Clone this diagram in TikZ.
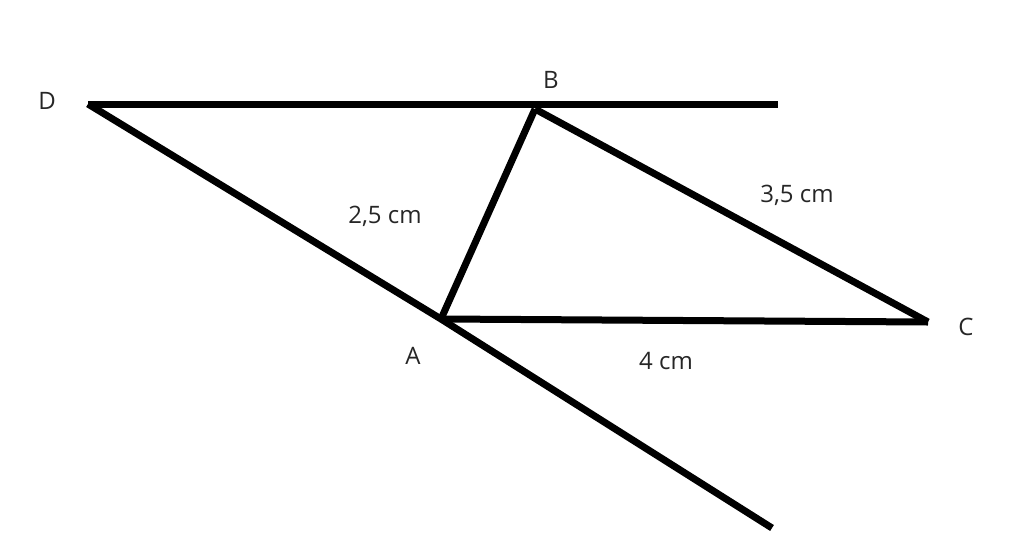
\documentclass[tikz,border=0pt]{standalone}
\usepackage{fontspec}
\setmainfont{Open Sans}

\begin{document}
\begin{tikzpicture}[x=1pt,y=-1pt]
				\tikzset{seg/.style={line width=7pt, draw=black},
				lbl/.style={text=black!85, font=\fontsize{24}{28}\selectfont, inner sep=0pt}}
				\useasboundingbox (0,0) rectangle (1024,555);
				\coordinate (D) at (88,104);
				\coordinate (E) at (778,104);
				\coordinate (B) at (535,109);
				\coordinate (C) at (928,322);
				\coordinate (A) at (441,319);
				\coordinate (F) at (772,528);
				\draw[seg] (D) -- (E);
				\draw[seg] (D) -- (A) -- (F);
				\draw[seg] (A) -- (B);
				\draw[seg] (B) -- (C);
				\draw[seg] (A) -- (C);
				\node[lbl] (lD) at (47,101) {D};
				\node[lbl] (lB) at (551,80) {B};
				\node[lbl] (lC) at (966,327) {C};
				\node[lbl] (lA) at (413,356) {A};
				\node[lbl] (lAB) at (385,216) {2,5 cm};
				\node[lbl] (lBC) at (797,195) {3,5 cm};
				\node[lbl] (lAC) at (666,361) {4 cm};
			\end{tikzpicture}
\end{document}
